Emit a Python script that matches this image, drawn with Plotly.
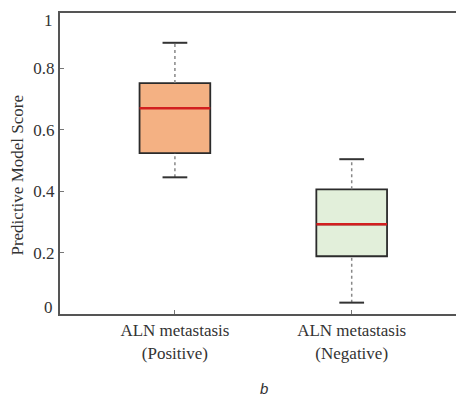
import plotly.graph_objects as go

categories = ["ALN metastasis<br>(Positive)", "ALN metastasis<br>(Negative)"]
q1 = [0.524, 0.188]
median = [0.670, 0.292]
q3 = [0.752, 0.406]
lowerfence = [0.445, 0.037]
upperfence = [0.883, 0.504]
fills = ["#F4B183", "#E2EFDA"]

ytickvals = [0.2, 0.4, 0.6, 0.8]
yticktext = ["0.2", "0.4", "0.6", "0.8"]
yend_labels = ["0", "1"]

BOXW = 0.4
CAPW = 0.14
serif = "Liberation Serif, Times New Roman, serif"

fig = go.Figure()
for i in range(len(categories)):
    fig.add_trace(go.Box(
        x=[i], q1=[q1[i]], median=[median[i]], q3=[q3[i]],
        lowerfence=[q1[i]], upperfence=[q3[i]],
        width=BOXW, fillcolor=fills[i],
        line=dict(color="#2b2b2b", width=1.8),
        whiskerwidth=0, boxpoints=False, showlegend=False, hoverinfo="skip"))
    # median line
    fig.add_trace(go.Scatter(x=[i - BOXW / 2, i + BOXW / 2], y=[median[i], median[i]],
                             mode="lines", line=dict(color="#D21F1F", width=2.4),
                             showlegend=False, hoverinfo="skip"))
    # whiskers dotted
    for a, b in [(q3[i], upperfence[i]), (lowerfence[i], q1[i])]:
        fig.add_trace(go.Scatter(x=[i, i], y=[a, b], mode="lines",
                                 line=dict(color="#888888", width=1.5, dash="dot"),
                                 showlegend=False, hoverinfo="skip"))
    # caps
    for v in [upperfence[i], lowerfence[i]]:
        fig.add_trace(go.Scatter(x=[i - CAPW / 2, i + CAPW / 2], y=[v, v], mode="lines",
                                 line=dict(color="#333333", width=2),
                                 showlegend=False, hoverinfo="skip"))

tickfont = dict(size=17, family=serif, color="#333333")
fig.update_layout(
    width=456, height=401,
    margin=dict(l=60, r=0, t=13, b=87, autoexpand=False),
    plot_bgcolor="white", paper_bgcolor="white",
    font=dict(family=serif, color="#222222"),
    xaxis=dict(range=[-0.65, 1.59], tickvals=[0, 1], ticktext=categories,
               showline=True, linecolor="#555555", linewidth=2, mirror=True,
               ticks="inside", ticklen=4, tickcolor="#777777", automargin=False,
               showgrid=False, zeroline=False, tickfont=tickfont),
    yaxis=dict(range=[0, 0.98], tickvals=ytickvals, ticktext=yticktext,
               showline=True, linecolor="#555555", linewidth=2,
               ticks="inside", ticklen=4, tickcolor="#777777", automargin=False,
               showgrid=False, zeroline=False, tickfont=tickfont),
    annotations=[
        dict(text="Predictive Model Score", x=(18 - 60) / 396, y=0.46, xref="paper", yref="paper",
             textangle=-90, showarrow=False, xanchor="center", yanchor="middle",
             font=dict(size=17, family=serif, color="#333333")),
        dict(text="<i>b</i>", x=(264 - 60) / 396, y=-(388 - 314) / 301, xref="paper", yref="paper",
             xanchor="center", yanchor="middle",
             showarrow=False, font=dict(family="Liberation Sans, Arial, sans-serif", size=15, color="#333333")),
        dict(text=yend_labels[0], x=(55 - 60) / 396, y=(314 - 307) / 301, xref="paper", yref="paper",
             xanchor="right", yanchor="middle", showarrow=False, font=tickfont),
        dict(text=yend_labels[1], x=(55 - 60) / 396, y=(314 - 20) / 301, xref="paper", yref="paper",
             xanchor="right", yanchor="middle", showarrow=False, font=tickfont),
    ],
)

fig.write_html("out.html", config={"displayModeBar": False},
               post_script="document.body.style.margin='0';document.body.style.overflow='hidden';")
